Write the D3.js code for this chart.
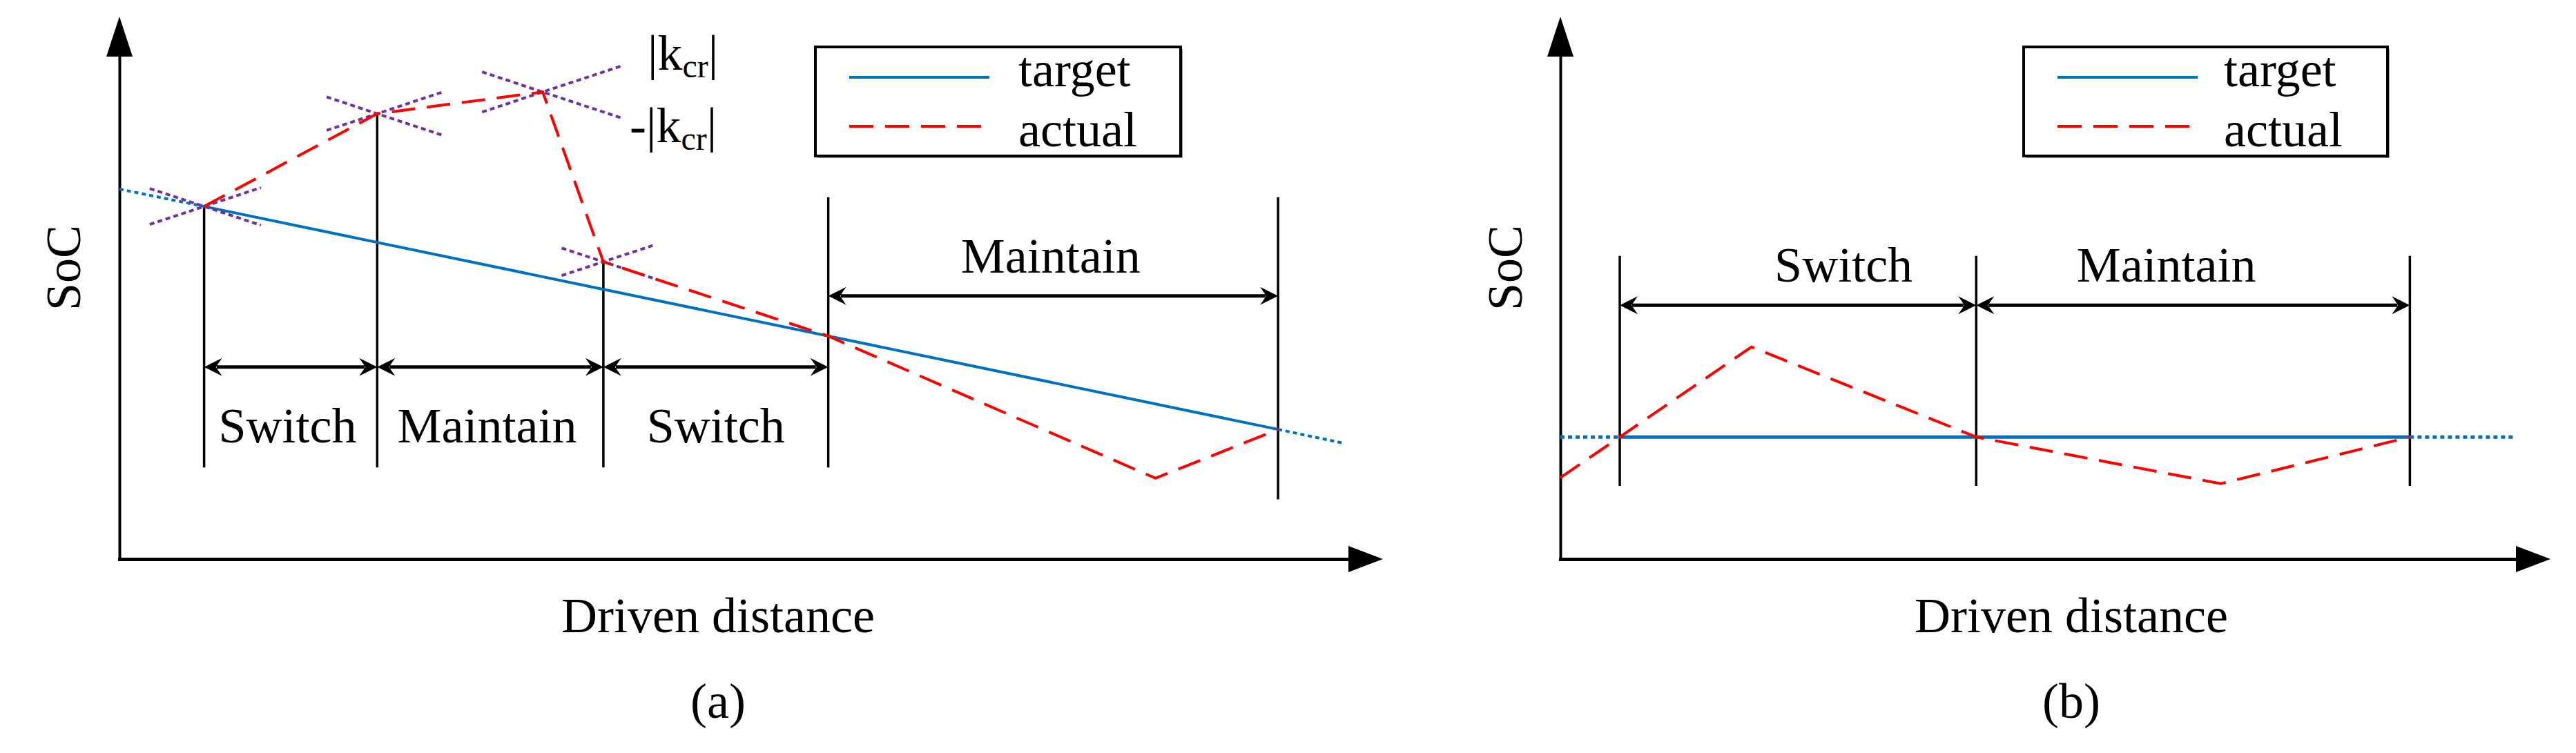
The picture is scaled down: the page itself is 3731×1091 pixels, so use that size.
<!DOCTYPE html>
<html>
<head>
<meta charset="utf-8">
<script src="https://cdn.jsdelivr.net/npm/d3@7"></script>
<style>
html,body{margin:0;padding:0;background:#fff;}
svg{display:block;}
text{font-family:"Liberation Serif","Times New Roman",serif;fill:#000;}
</style>
</head>
<body>
<svg id="chart" width="3731" height="1091"></svg>
<script>
// ================= DATA (distance and SoC in arbitrary 0-100 units) =================
// ---- Panel (a) ----
const aTargetDist = [0, 6.7, 91.7, 96.8];          // first/last segment = dotted extension
const aTargetSoC  = [68.2, 65.0, 23.9, 21.4];
const aActualDist = [6.7, 20.4, 33.5, 38.3, 56.1, 82.0, 91.7];
const aActualSoC  = [65.0, 82.1, 86.1, 54.8, 41.1, 14.9, 23.9];
const aCrossIndex = [0, 1, 2, 3];                  // points of actual curve with ±|kcr| crosses
const aCrossLeft  = [4.3, 4.0, 4.8, 3.3];
const aCrossRight = [4.5, 5.2, 6.2, 3.9];
const kcrSlope    = 0.77;
const aBoundDist   = [6.7, 20.4, 38.3, 56.1, 91.7];
const aBoundTop    = [65.0, 82.1, 54.8, 66.7, 66.7];
const aBoundBottom = [16.9, 16.9, 16.9, 16.9, 11.0];
const aPhaseNames = ["Switch", "Maintain", "Switch", "Maintain"];
const aPhaseStart = [6.7, 20.4, 38.3, 56.1];
const aPhaseEnd   = [20.4, 38.3, 56.1, 91.7];
const aPhaseLevel = [35.4, 35.4, 35.4, 48.5];
const aPhaseLabelDist = [13.3, 29.1, 47.2, 73.7];
const aPhaseLabelSide = ["below", "below", "below", "above"];

// ---- Panel (b) ----
const bTargetDist = [0, 6.0, 85.8, 96.3];
const bTargetSoC  = [22.5, 22.5, 22.5, 22.5];
const bActualDist = [0, 6.0, 19.3, 42.0, 66.7, 85.8];
const bActualSoC  = [15.0, 22.5, 39.1, 22.5, 13.9, 22.5];
const bBoundDist   = [6.0, 42.0, 85.8];
const bBoundTop    = [55.9, 55.9, 55.9];
const bBoundBottom = [13.5, 13.5, 13.5];
const bPhaseNames = ["Switch", "Maintain"];
const bPhaseStart = [6.0, 42.0];
const bPhaseEnd   = [42.0, 85.8];
const bPhaseLevel = [46.8, 46.8];
const bPhaseLabelDist = [28.6, 61.2];
const bPhaseLabelSide = ["above", "above"];

const legendNames = ["target", "actual"];
const axisTitles = {x: "Driven distance", y: "SoC"};
const panelTags = ["(a)", "(b)"];

// ================= DRAWING =================
const BLUE = "#0070C0", RED = "#FF0000", PURPLE = "#7030A0";
const FS = 72;
const svg = d3.select("#chart");

function dimHead(g, x, y, dir) {
  g.append("path")
    .attr("d", "M0,0 L-26,-13 L-17,0 L-26,13 Z")
    .attr("transform", `translate(${x},${y}) rotate(${dir > 0 ? 0 : 180})`)
    .attr("fill", "#000");
}

function drawPanel(p) {
  const g = svg.append("g");
  const x = d3.scaleLinear().domain([0, 100]).range(p.xr);
  const y = d3.scaleLinear().domain([0, 100]).range(p.yr);
  const line = d3.line().x(d => x(d[0])).y(d => y(d[1]));

  // axes (no ticks) with arrowheads
  const xa = d3.scaleLinear().domain([0, 100]).range([p.xr[0], p.xr[1] - 46]);
  const ya = d3.scaleLinear().domain([0, 100]).range([p.yr[0], p.yr[1] + 54]);
  g.append("g").attr("transform", `translate(0,${y(0)})`)
    .call(d3.axisBottom(xa).tickValues([]).tickSizeOuter(0))
    .call(s => s.select(".domain").attr("stroke", "#000").attr("stroke-width", 5).attr("stroke-linecap", "square"));
  g.append("g").attr("transform", `translate(${x(0)},0)`)
    .call(d3.axisLeft(ya).tickValues([]).tickSizeOuter(0))
    .call(s => s.select(".domain").attr("stroke", "#000").attr("stroke-width", 4).attr("stroke-linecap", "square"));
  g.append("path").attr("fill", "#000")
    .attr("d", `M${x(100)},${y(0)} L${x(100) - 50},${y(0) - 19} L${x(100) - 50},${y(0) + 19} Z`);
  g.append("path").attr("fill", "#000")
    .attr("d", `M${x(0)},${y(100)} L${x(0) - 19},${y(100) + 58} L${x(0) + 19},${y(100) + 58} Z`);

  // boundary verticals
  g.selectAll(".bound").data(p.boundDist).join("line")
    .attr("x1", d => x(d)).attr("x2", d => x(d))
    .attr("y1", (d, i) => y(p.boundTop[i])).attr("y2", (d, i) => y(p.boundBottom[i]))
    .attr("stroke", "#000").attr("stroke-width", 3.5);

  // target line
  const t = p.tDist.map((d, i) => [d, p.tSoC[i]]);
  g.append("path").attr("d", line([t[0], t[1]])).attr("fill", "none")
    .attr("stroke", BLUE).attr("stroke-width", p.blueW).attr("stroke-dasharray", "6,5");
  g.append("path").attr("d", line([t[2], t[3]])).attr("fill", "none")
    .attr("stroke", BLUE).attr("stroke-width", p.blueW).attr("stroke-dasharray", "6,5");
  g.append("path").attr("d", line([t[1], t[2]])).attr("fill", "none")
    .attr("stroke", BLUE).attr("stroke-width", p.blueW);

  // crosses
  if (p.crossIndex) {
    p.crossIndex.forEach((ci, k) => {
      const cx = p.aDist[ci], cy = p.aSoC[ci];
      const L = p.crossLeft[k], R = p.crossRight[k];
      [[[cx - L, cy - kcrSlope * L], [cx + R, cy + kcrSlope * R]],
       [[cx - L, cy + kcrSlope * L], [cx + R, cy - kcrSlope * R]]].forEach(seg => {
        g.append("path").attr("d", line(seg)).attr("fill", "none")
          .attr("stroke", PURPLE).attr("stroke-width", 4).attr("stroke-dasharray", "7,5");
      });
    });
  }

  // actual line
  const a = p.aDist.map((d, i) => [d, p.aSoC[i]]);
  g.append("path").attr("d", line(a)).attr("fill", "none")
    .attr("stroke", RED).attr("stroke-width", 4).attr("stroke-dasharray", "34,17");

  // phase dimension arrows & labels
  p.phaseNames.forEach((name, i) => {
    const x1 = x(p.phaseStart[i]), x2 = x(p.phaseEnd[i]), yy = y(p.phaseLevel[i]);
    g.append("line").attr("x1", x1 + 18).attr("x2", x2 - 18).attr("y1", yy).attr("y2", yy)
      .attr("stroke", "#000").attr("stroke-width", 5);
    dimHead(g, x1, yy, -1);
    dimHead(g, x2, yy, 1);
    g.append("text").attr("x", x(p.phaseLabelDist[i]))
      .attr("y", p.phaseLabelSide[i] === "below" ? yy + 109 : yy - 34)
      .attr("text-anchor", "middle").attr("font-size", FS).text(name);
  });

  // legend
  const lg = g.append("g");
  lg.append("rect").attr("x", p.legend[0] + 3).attr("y", p.legend[1] + 3)
    .attr("width", p.legend[2]).attr("height", p.legend[3]).attr("fill", "#999");
  lg.append("rect").attr("x", p.legend[0]).attr("y", p.legend[1])
    .attr("width", p.legend[2]).attr("height", p.legend[3])
    .attr("fill", "#fff").attr("stroke", "#000").attr("stroke-width", 4);
  const lx = p.legend[0];
  lg.append("line").attr("x1", lx + 49).attr("x2", lx + 252).attr("y1", 112).attr("y2", 112)
    .attr("stroke", BLUE).attr("stroke-width", 4);
  lg.append("line").attr("x1", lx + 49).attr("x2", lx + 240).attr("y1", 183).attr("y2", 183)
    .attr("stroke", RED).attr("stroke-width", 4).attr("stroke-dasharray", "35,17");
  lg.append("text").attr("x", lx + p.legendTextX).attr("y", 125).attr("font-size", FS).text(legendNames[0]);
  lg.append("text").attr("x", lx + p.legendTextX).attr("y", 212).attr("font-size", FS).text(legendNames[1]);

  // axis titles & tag
  g.append("text").attr("x", p.xTitle).attr("y", 916).attr("text-anchor", "middle")
    .attr("font-size", FS).text(axisTitles.x);
  g.append("text").attr("x", p.xTitle).attr("y", 1040).attr("text-anchor", "middle")
    .attr("font-size", FS).text(p.tag);
  g.append("text").attr("transform", `translate(${p.yTitleX},388) rotate(-90)`)
    .attr("text-anchor", "middle").attr("font-size", FS).text(axisTitles.y);
  return g;
}

const gA = drawPanel({
  xr: [173, 2003], yr: [810, 24], blueW: 4,
  tDist: aTargetDist, tSoC: aTargetSoC, aDist: aActualDist, aSoC: aActualSoC,
  crossIndex: aCrossIndex, crossLeft: aCrossLeft, crossRight: aCrossRight,
  boundDist: aBoundDist, boundTop: aBoundTop, boundBottom: aBoundBottom,
  phaseNames: aPhaseNames, phaseStart: aPhaseStart, phaseEnd: aPhaseEnd,
  phaseLevel: aPhaseLevel, phaseLabelDist: aPhaseLabelDist, phaseLabelSide: aPhaseLabelSide,
  legend: [1181, 68, 529, 158], legendTextX: 294,
  xTitle: 1040, yTitleX: 116, tag: panelTags[0]
});

// |kcr| labels
function kcr(x, yb, minus) {
  const t = gA.append("text").attr("x", x).attr("y", yb).attr("font-size", FS);
  t.append("tspan").text((minus ? "-" : "") + "|k");
  t.append("tspan").attr("font-size", 48).attr("dy", 11).text("cr");
  t.append("tspan").attr("dy", -11).text("|");
}
kcr(938, 101, false);
kcr(912, 206, true);

drawPanel({
  xr: [2260, 3694], yr: [810, 24], blueW: 5,
  tDist: bTargetDist, tSoC: bTargetSoC, aDist: bActualDist, aSoC: bActualSoC,
  boundDist: bBoundDist, boundTop: bBoundTop, boundBottom: bBoundBottom,
  phaseNames: bPhaseNames, phaseStart: bPhaseStart, phaseEnd: bPhaseEnd,
  phaseLevel: bPhaseLevel, phaseLabelDist: bPhaseLabelDist, phaseLabelSide: bPhaseLabelSide,
  legend: [2931, 68, 527, 158], legendTextX: 290,
  xTitle: 3000, yTitleX: 2204, tag: panelTags[1]
});
</script>
</body>
</html>
